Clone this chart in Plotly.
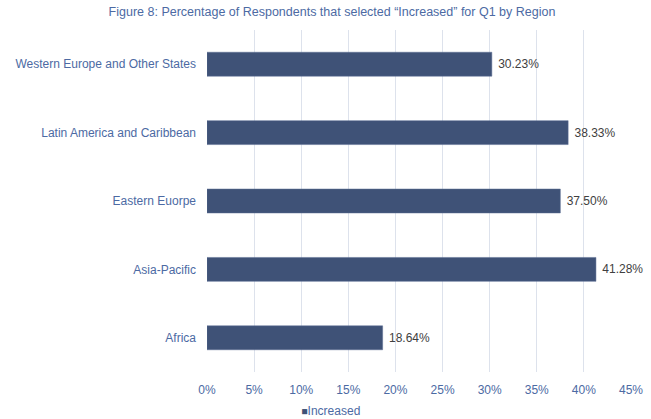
import plotly.graph_objects as go

# === Dados ===
regioes = ["Africa", "Asia-Pacific", "Eastern Euorpe",
           "Latin America and Caribbean", "Western Europe and Other States"]
aumentou = [18.64, 41.28, 37.50, 38.33, 30.23]
ticks_x = [0, 5, 10, 15, 20, 25, 30, 35, 40, 45]
serie_nome = "Increased"

cor_barra = "#3f5277"
cor_texto = "#4c6aa3"

fig = go.Figure()
fig.add_trace(go.Bar(
    y=regioes, x=aumentou, orientation="h", name=serie_nome, showlegend=False,
    marker=dict(color=cor_barra, line=dict(color="#5a6d92", width=0.5)),
    text=[f" {v:.2f}%" for v in aumentou], textposition="outside",
    textfont=dict(color="#404040", size=12), cliponaxis=False,
))
# item de legenda: quadradinho colado ao texto, como no original
fig.add_trace(go.Scatter(
    x=[None], y=[None], mode="markers",
    name=f"<span style='font-size:10.5px;color:{cor_barra}'>\u25a0</span>{serie_nome}",
    marker=dict(symbol="square", size=1, color="rgba(0,0,0,0)",
                line=dict(width=0, color="rgba(0,0,0,0)")),
))

fig.update_layout(
    width=651, height=419,
    margin=dict(l=207, r=20, t=30, b=47, autoexpand=False),
    plot_bgcolor="white", paper_bgcolor="white",
    font=dict(family="Liberation Sans, Arial, sans-serif", size=12, color=cor_texto),
    title=dict(text="Figure 8: Percentage of Respondents that selected \u201cIncreased\u201d for Q1 by Region",
               xref="container", yref="container",
               x=0.51, xanchor="center", y=0.973, yanchor="middle",
               font=dict(size=12.5, color=cor_texto)),
    bargap=0.65,
    showlegend=True,
    legend=dict(orientation="h", x=0.128, xanchor="left", y=-0.111, yanchor="middle",
                font=dict(size=12, color=cor_texto), itemwidth=30),
    xaxis=dict(range=[0, 45], tickvals=ticks_x, ticktext=[f"{t}%" for t in ticks_x],
               showgrid=True, gridcolor="#dde2ec", gridwidth=1, zeroline=False,
               showline=False, ticks="", automargin=False, ticklabelstandoff=9,
               tickfont=dict(size=12, color=cor_texto)),
    yaxis=dict(showgrid=False, showline=False, ticks="", ticklabelstandoff=10,
               automargin=False, tickfont=dict(size=12, color=cor_texto)),
)

# tira a margem padrão do body para o gráfico ficar alinhado à janela
fig.write_html("out.html", config={"displayModeBar": False},
               post_script="document.body.style.margin='0';")
